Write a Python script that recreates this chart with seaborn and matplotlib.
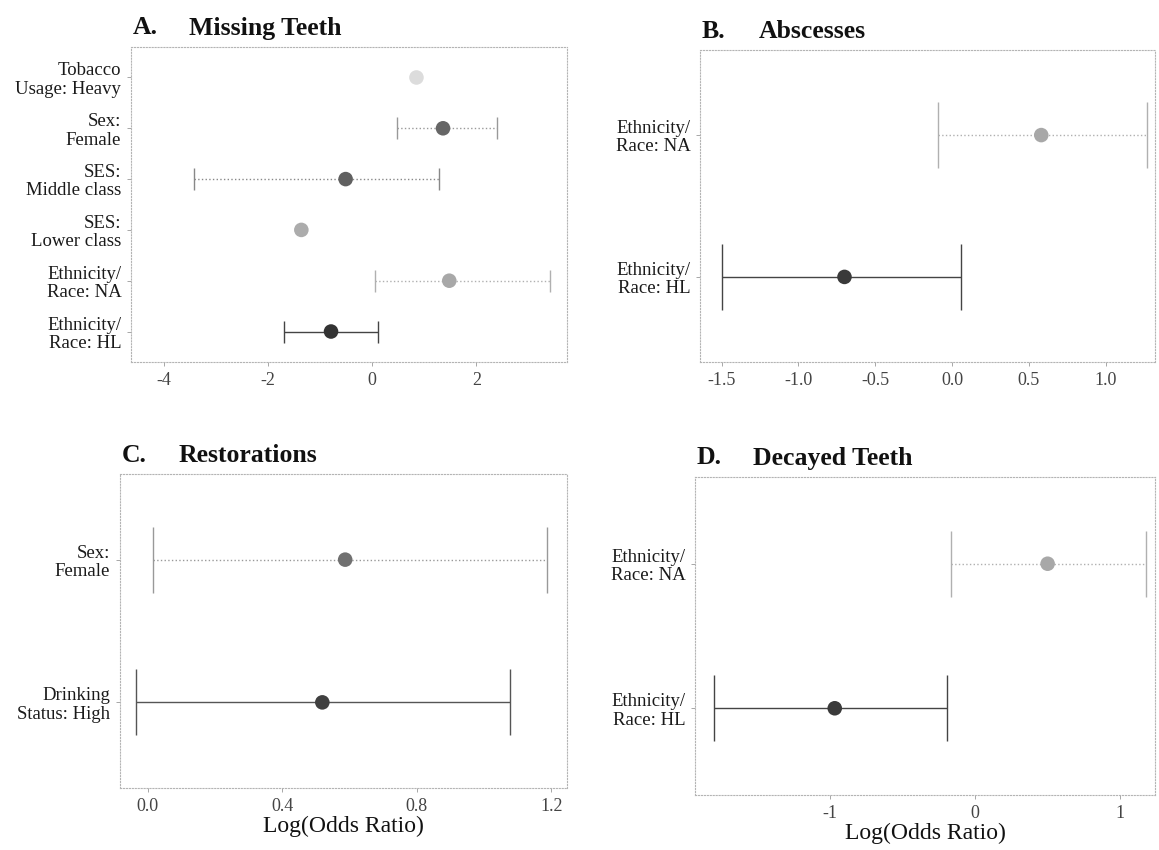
import numpy as np
import pandas as pd
import matplotlib
matplotlib.use("Agg")
import matplotlib.pyplot as plt
import seaborn as sns

# ---------------- data ----------------
a_labels = ["Tobacco\nUsage: Heavy", "Sex:\nFemale", "SES:\nMiddle class",
            "SES:\nLower class", "Ethnicity/\nRace: NA", "Ethnicity/\nRace: HL"]
a_est = [0.85, 1.36, -0.51, -1.36, 1.48, -0.79]
a_lo = [np.nan, 0.47, -3.42, np.nan, 0.05, -1.69]
a_hi = [np.nan, 2.40, 1.29, np.nan, 3.42, 0.11]

b_labels = ["Ethnicity/\nRace: NA", "Ethnicity/\nRace: HL"]
b_est = [0.58, -0.70]
b_lo = [-0.09, -1.50]
b_hi = [1.27, 0.06]

c_labels = ["Sex:\nFemale", "Drinking\nStatus: High"]
c_est = [0.587, 0.519]
c_lo = [0.016, -0.036]
c_hi = [1.187, 1.078]

d_labels = ["Ethnicity/\nRace: NA", "Ethnicity/\nRace: HL"]
d_est = [0.50, -0.967]
d_lo = [-0.165, -1.80]
d_hi = [1.175, -0.19]

a_ticks = [-4, -2, 0, 2]
b_ticks = [-1.5, -1.0, -0.5, 0.0, 0.5, 1.0]
c_ticks = [0.0, 0.4, 0.8, 1.2]
d_ticks = [-1, 0, 1]

# ---------------- style ----------------
sns.set_theme(style="white")
plt.rcParams["font.family"] = ["Liberation Serif", "DejaVu Serif"]
plt.rcParams["axes.unicode_minus"] = False

a_pcol = ["#dcdcdc", "#666666", "#606060", "#acacac", "#a8a8a8", "#333333"]
a_bcol = ["#dddddd", "#999999", "#888888", "#cccccc", "#b0b0b0", "#444444"]
a_bls = [":", ":", ":", ":", ":", "-"]
b_pcol = ["#a8a8a8", "#3a3a3a"]
b_bcol = ["#b0b0b0", "#444444"]
b_bls = [":", "-"]
c_pcol = ["#707070", "#404040"]
c_bcol = ["#999999", "#555555"]
c_bls = [":", "-"]
d_pcol = ["#a8a8a8", "#3a3a3a"]
d_bcol = ["#b0b0b0", "#444444"]
d_bls = [":", "-"]

W, H = 1159, 850
fig = plt.figure(figsize=(W / 100, H / 100), dpi=100)


def rect(l, r, t, b):
    return [l / W, 1 - b / H, (r - l) / W, (b - t) / H]


def panel(ax, labels, est, lo, hi, pcol, bcol, bls, xlim, xticks, fmt,
          capsize, letter, name, xlabel=None):
    n = len(labels)
    df = pd.DataFrame({"label": labels, "est": est, "lo": lo, "hi": hi,
                       "y": np.arange(n)[::-1]})
    for i, row in df.iterrows():
        if np.isnan(row["lo"]):
            continue
        cont = ax.errorbar(row["est"], row["y"],
                           xerr=[[row["est"] - row["lo"]], [row["hi"] - row["est"]]],
                           fmt="none", ecolor=bcol[i], elinewidth=1.0,
                           capsize=capsize, capthick=1.0, zorder=2)
        for lc in cont.lines[2]:
            lc.set_linestyle(bls[i])
    sns.scatterplot(data=df, x="est", y="y", hue="label",
                    palette=dict(zip(labels, pcol)), s=110, legend=False,
                    edgecolor="none", ax=ax, zorder=3)
    ax.set_xlim(*xlim)
    ax.set_ylim(-0.6, n - 1 + 0.6)
    ax.set_yticks(df["y"])
    ax.set_yticklabels(labels, fontsize=13.5, linespacing=1.1, color="#1a1a1a")
    ax.set_xticks(xticks)
    ax.set_xticklabels([fmt.format(t) for t in xticks], fontsize=13, color="#444444")
    ax.tick_params(axis="both", length=3, width=0.6, color="#999999", pad=4,
                   left=True, bottom=True)
    ax.set_ylabel("")
    if xlabel:
        ax.set_xlabel(xlabel, fontsize=17, labelpad=1, color="#111111")
    else:
        ax.set_xlabel("")
    for sp in ax.spines.values():
        sp.set_visible(True)
        sp.set_color("#b4b4b4")
        sp.set_linewidth(0.8)
        sp.set_linestyle(":")
    ax.annotate(letter, xy=(0, 1), xycoords="axes fraction",
                xytext=(1, 9), textcoords="offset points",
                fontsize=18.5, fontweight="bold", ha="left", va="baseline",
                color="#111111")
    ax.annotate(name, xy=(0, 1), xycoords="axes fraction",
                xytext=(42, 9), textcoords="offset points",
                fontsize=18.5, fontweight="bold", ha="left", va="baseline",
                color="#111111")


axA = fig.add_axes(rect(131, 567, 47, 362))
axB = fig.add_axes(rect(700, 1155, 50, 362))
axC = fig.add_axes(rect(120, 567, 474, 788))
axD = fig.add_axes(rect(695, 1155, 477, 795))

panel(axA, a_labels, a_est, a_lo, a_hi, a_pcol, a_bcol, a_bls,
      (-4.63, 3.74), a_ticks, "{:g}", 8, "A.", "Missing Teeth")
panel(axB, b_labels, b_est, b_lo, b_hi, b_pcol, b_bcol, b_bls,
      (-1.64, 1.32), b_ticks, "{:.1f}", 24, "B.", "Abscesses")
panel(axC, c_labels, c_est, c_lo, c_hi, c_pcol, c_bcol, c_bls,
      (-0.083, 1.247), c_ticks, "{:.1f}", 24, "C.", "Restorations",
      xlabel="Log(Odds Ratio)")
panel(axD, d_labels, d_est, d_lo, d_hi, d_pcol, d_bcol, d_bls,
      (-1.93, 1.24), d_ticks, "{:g}", 24, "D.", "Decayed Teeth",
      xlabel="Log(Odds Ratio)")

fig.savefig("out.png", dpi=100)
